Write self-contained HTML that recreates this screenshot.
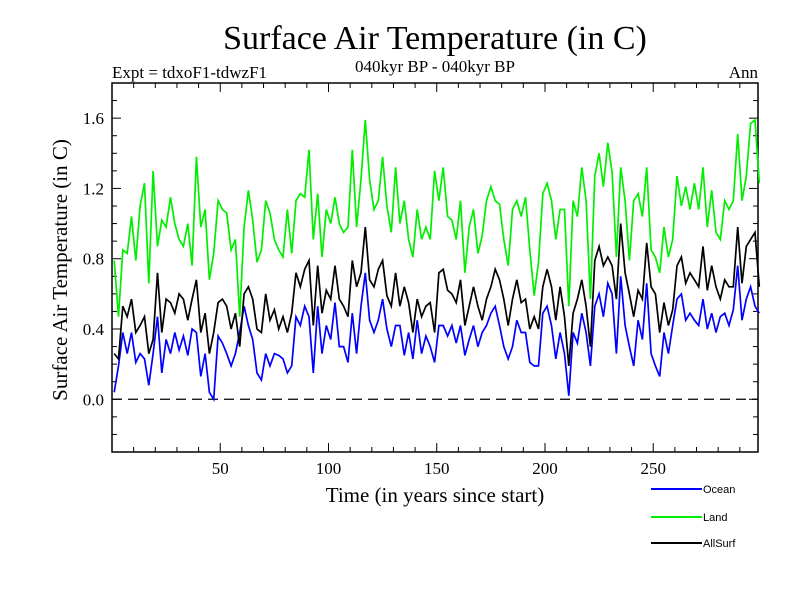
<!DOCTYPE html>
<html><head><meta charset="utf-8">
<style>
html,body{margin:0;padding:0;background:#fff;}
svg{display:block;}
text{font-family:"Liberation Serif",serif;}
text.sans{font-family:"Liberation Sans",sans-serif;}
</style></head>
<body>
<svg id="chart" width="800" height="600" viewBox="0 0 800 600" xmlns="http://www.w3.org/2000/svg">
<rect width="800" height="600" fill="#fff"/>
<text x="435" y="49" font-size="34" text-anchor="middle">Surface Air Temperature (in C)</text>
<text x="435" y="72" font-size="17" text-anchor="middle">040kyr BP - 040kyr BP</text>
<text x="112" y="78" font-size="17">Expt = tdxoF1-tdwzF1</text>
<text x="758" y="78" font-size="17" text-anchor="end">Ann</text>
<text transform="translate(67,270) rotate(-90)" font-size="21" text-anchor="middle">Surface Air Temperature (in C)</text>
<text x="435" y="502" font-size="21" text-anchor="middle">Time (in years since start)</text>
<g id="axes"></g>
<g id="series"></g>
<g id="legend"></g>
</svg>
<script>
const years = [];
for (let y = 1; y <= 299; y += 2) years.push(y);
const ocean = [
.04,.19,.38,.26,.38,.21,.26,.23,.08,.26,.47,.15,.34,.26,.38,.28,.36,.25,.40,.38,.13,.26,.04,.00,.36,.32,.26,.19,.26,.38,.53,.42,.34,.15,.11,.26,.19,.26,.25,
.23,.15,.19,.47,.42,.53,.47,.15,.53,.26,.42,.34,.55,.30,.30,.21,.49,.26,.53,.72,.45,.38,.45,.57,.40,.30,.42,.42,.25,.38,.23,.45,.26,.36,.30,.21,.42,
.42,.36,.42,.32,.42,.25,.34,.42,.30,.38,.42,.49,.53,.42,.30,.23,.30,.45,.38,.38,.21,.19,.19,.49,.53,.42,.23,.38,.26,.02,.38,.32,.49,.38,.19,.53,.60,.47,
.66,.60,.26,.70,.42,.30,.19,.45,.34,.66,.26,.19,.13,.38,.26,.42,.57,.60,.45,.49,.45,.42,.57,.40,.49,.38,.47,.49,.42,.51,.76,.45,.57,.64,.53,.49];
const land = [
.79,.47,.85,.83,1.04,.79,1.10,1.23,.66,1.30,.87,1.02,.98,1.15,1.00,.91,.87,1.00,.76,1.38,.98,1.08,.68,.83,1.13,1.08,1.06,.85,.91,.47,.98,1.19,1.02,.78,.85,1.13,1.06,.91,.85,
.81,1.08,.83,1.13,1.17,1.15,1.42,.91,1.17,.81,1.08,1.00,1.15,1.00,.95,.98,1.42,.98,1.25,1.59,1.25,1.08,1.13,1.38,1.10,.95,1.32,1.00,1.13,.91,.81,1.08,.91,.98,.91,1.30,1.13,
1.32,1.04,1.02,.91,1.13,.72,.98,1.08,.83,.93,1.13,1.21,1.13,1.11,.91,.76,1.08,1.13,1.04,1.15,.85,.59,.78,1.17,1.23,1.13,.91,1.08,1.08,.53,1.13,1.04,1.32,1.13,.57,1.27,1.40,1.21,
1.46,1.29,.81,1.32,1.13,.79,1.13,1.17,1.04,1.32,.85,.81,.72,.98,.81,.91,1.27,1.10,1.21,1.08,1.23,1.08,1.32,.98,1.19,.95,.91,1.13,1.08,1.13,1.51,1.13,1.27,1.57,1.59,1.23];
const allSurf = [
.26,.23,.53,.47,.57,.38,.42,.47,.26,.34,.72,.38,.57,.55,.49,.60,.57,.45,.57,.68,.38,.49,.26,.38,.55,.57,.53,.40,.49,.30,.60,.64,.57,.40,.38,.60,.45,.51,.40,
.47,.38,.49,.72,.64,.74,.79,.42,.76,.49,.62,.57,.76,.57,.53,.47,.79,.64,.72,.98,.68,.64,.74,.79,.59,.53,.72,.53,.64,.55,.38,.57,.47,.53,.55,.38,.72,
.74,.62,.60,.55,.68,.42,.53,.64,.53,.45,.57,.64,.74,.68,.57,.42,.57,.68,.55,.57,.40,.47,.40,.64,.74,.64,.45,.64,.47,.19,.49,.57,.68,.53,.30,.79,.87,.76,
.81,.76,.57,1.00,.72,.60,.47,.62,.57,.89,.64,.60,.38,.55,.42,.51,.76,.81,.66,.72,.68,.64,.87,.62,.76,.64,.57,.68,.64,.64,.98,.66,.87,.91,.95,.64];
const xTickLabels = [50,100,150,200,250];
const yTickLabels = ["0.0","0.4","0.8","1.2","1.6"];
const yTickValues = [0,0.4,0.8,1.2,1.6];
const seriesNames = ["Ocean","Land","AllSurf"];

const NS = "http://www.w3.org/2000/svg";
const L = 112, R = 758, T = 83, B = 452;
const X0 = 0, X1 = 298.4, Y0 = -0.3, Y1 = 1.8;
function xs(v){ return L + (v - X0) / (X1 - X0) * (R - L); }
function ys(v){ return B - (v - Y0) / (Y1 - Y0) * (B - T); }
function mk(tag, attrs, parent){
  const e = document.createElementNS(NS, tag);
  for (const k in attrs) e.setAttribute(k, attrs[k]);
  parent.appendChild(e); return e;
}
const axes = document.getElementById('axes');
const frame = mk('rect', {x:L, y:T, width:R-L, height:B-T, fill:'none', stroke:'#000', 'stroke-width':1.5}, axes);


for (let v = 10; v < X1; v += 10) {
  const major = v % 50 === 0;
  const len = major ? 9 : 5;
  const x = xs(v);
  const t1 = mk('line', {x1:x, x2:x, y1:B, y2:B-len, stroke:'#000', 'stroke-width':1}, axes);
  
  
  const t2 = mk('line', {x1:x, x2:x, y1:T, y2:T+len, stroke:'#000', 'stroke-width':1}, axes);
  
  
}
xTickLabels.forEach(v => {
  const t = mk('text', {x:xs(v), y:B+22, 'font-size':17, 'text-anchor':'middle'}, axes);
  t.textContent = v;
  
  
});
for (let k = -2; k <= 17; k++) {
  const v = k / 10;
  const major = k % 4 === 0;
  const len = major ? 9 : 5;
  const y = ys(v);
  const t1 = mk('line', {x1:L, x2:L+len, y1:y, y2:y, stroke:'#000', 'stroke-width':1}, axes);
  
  
  const t2 = mk('line', {x1:R, x2:R-len, y1:y, y2:y, stroke:'#000', 'stroke-width':1}, axes);
  
  
}
yTickValues.forEach((v, i) => {
  const t = mk('text', {x:L-8, y:ys(v)+6, 'font-size':17, 'text-anchor':'end'}, axes);
  t.textContent = yTickLabels[i];
  
  
});
const zl = mk('line', {x1:L, x2:R, y1:ys(0), y2:ys(0), stroke:'#000', 'stroke-width':1.2, 'stroke-dasharray':'10,6'}, axes);



const sg = document.getElementById('series');
const colors = ['#0000ff', '#00ee00', '#000000'];
[ocean, land, allSurf].forEach((arr, si) => {
  const pts = arr.map((v, i) => xs(years[i]).toFixed(1) + ',' + ys(v).toFixed(1)).join(' ');
  const p = mk('polyline', {points:pts, fill:'none', stroke:colors[si], 'stroke-width':1.7, 'stroke-linejoin':'miter'}, sg);
  
  
});
const lg = document.getElementById('legend');
const legendY = [489, 517, 543];
seriesNames.forEach((n, i) => {
  const ln = mk('line', {x1:651, x2:702, y1:legendY[i], y2:legendY[i], stroke:colors[i], 'stroke-width':2}, lg);
  
  
  const t = mk('text', {x:703, y:legendY[i]+4, 'font-size':11, 'class':'sans'}, lg);
  t.textContent = n;
  
  
});
</script>
</body></html>
